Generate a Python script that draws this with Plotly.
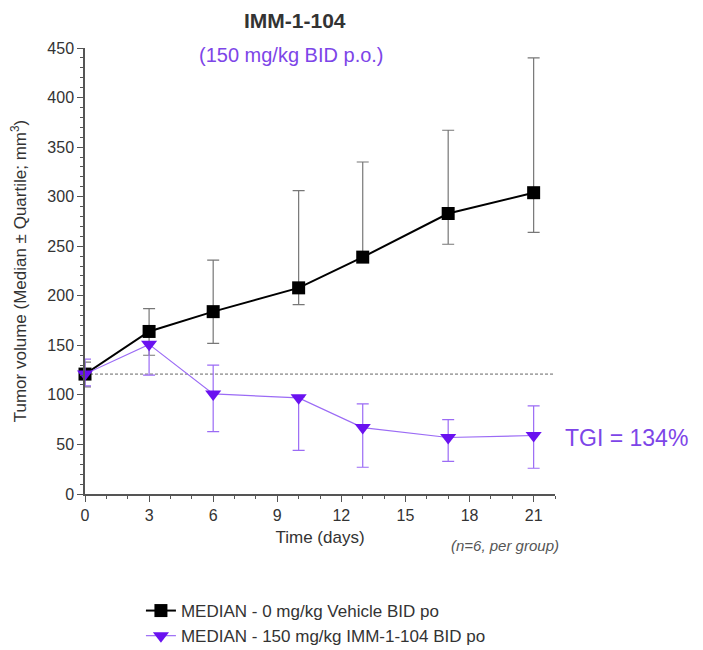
import plotly.graph_objects as go

days = [0, 3, 6, 10, 13, 17, 21]
vehicle_median = [121, 164, 184, 208, 239, 283, 304]
vehicle_upper = [133, 187, 236, 306, 335, 367, 440]
vehicle_lower = [108, 140, 152, 191, 236, 252, 264]
treat_median = [121, 151, 101, 97, 67, 57, 59]
treat_upper = [136, 153, 130, 98, 91, 75, 89]
treat_lower = [109, 120, 63, 44, 27, 33, 26]

x_tickvals = [0, 3, 6, 9, 12, 15, 18, 21]
y_tickvals = [0, 50, 100, 150, 200, 250, 300, 350, 400, 450]

purple_marker = "#6a11f0"
purple_line = "#9b6bf5"
purple_text = "#7d45e8"
axis_color = "#555555"
font_family = "Liberation Sans, Arial, sans-serif"

# the page body adds an 8px offset; the figure is sized to fit the window
PAGE_OFFSET = 8

fig = go.Figure()

fig.add_trace(go.Scatter(
    x=days, y=vehicle_median, mode="lines+markers",
    name="MEDIAN - 0 mg/kg Vehicle BID po",
    line=dict(color="black", width=2),
    marker=dict(symbol="square", size=13, color="black"),
    error_y=dict(type="data", symmetric=False,
                 array=[u - m for u, m in zip(vehicle_upper, vehicle_median)],
                 arrayminus=[m - l for m, l in zip(vehicle_median, vehicle_lower)],
                 color="#777777", thickness=1.2, width=6),
    cliponaxis=False,
))

fig.add_trace(go.Scatter(
    x=days, y=treat_median, mode="lines+markers",
    name="MEDIAN - 150 mg/kg IMM-1-104 BID po",
    line=dict(color=purple_line, width=1.2),
    marker=dict(symbol="triangle-down", size=14, color=purple_marker),
    error_y=dict(type="data", symmetric=False,
                 array=[u - m for u, m in zip(treat_upper, treat_median)],
                 arrayminus=[m - l for m, l in zip(treat_median, treat_lower)],
                 color=purple_line, thickness=1.2, width=6),
    cliponaxis=False,
))

# baseline dashed line at initial median
fig.add_shape(type="line", xref="x", yref="y", x0=0, x1=22,
              y0=vehicle_median[0], y1=vehicle_median[0],
              line=dict(color="#666666", width=1, dash="3px,2px"), layer="below")

fig.update_layout(
    width=703 - PAGE_OFFSET, height=650 - PAGE_OFFSET,
    margin=dict(l=85 - PAGE_OFFSET, r=148, t=48 - PAGE_OFFSET, b=156, autoexpand=False),
    paper_bgcolor="white", plot_bgcolor="white",
    font=dict(family=font_family, size=15, color="#333333"),
    showlegend=True,
    legend=dict(x=0.119, y=-0.222, xanchor="left", yanchor="top",
                font=dict(size=17, color="#333333"),
                tracegroupgap=0, itemwidth=30, bgcolor="rgba(0,0,0,0)"),
    xaxis=dict(range=[0, 22], tickmode="array", tickvals=x_tickvals,
               ticks="outside", ticklen=6, tickcolor=axis_color,
               showline=True, linecolor=axis_color, linewidth=1.5,
               showgrid=False, zeroline=False, automargin=False,
               minor=dict(dtick=1, ticks="outside", ticklen=3, tickcolor=axis_color),
               title=dict(text="Time (days)", font=dict(size=17, color="#333333"), standoff=8),
               tickfont=dict(size=16, color="#333333")),
    yaxis=dict(range=[0, 450], tickmode="array", tickvals=y_tickvals,
               ticks="outside", ticklen=6, tickcolor=axis_color,
               showline=True, linecolor=axis_color, linewidth=1.5,
               showgrid=False, zeroline=False, automargin=False,
               minor=dict(dtick=10, ticks="outside", ticklen=3, tickcolor=axis_color),
               title=dict(text="Tumor volume (Median ± Quartile; mm<sup>3</sup>)",
                          font=dict(size=17, color="#333333"), standoff=16),
               tickfont=dict(size=16, color="#333333")),
)

fig.add_annotation(text="<b>IMM-1-104</b>", xref="paper", yref="paper",
                   x=(295 - 85) / 470, y=(494 - 20) / 446, xanchor="center", yanchor="middle",
                   showarrow=False, font=dict(size=21, color="#333333"))
fig.add_annotation(text="(150 mg/kg BID p.o.)", xref="paper", yref="paper",
                   x=(291 - 85) / 470, y=(494 - 55) / 446, xanchor="center", yanchor="middle",
                   showarrow=False, font=dict(size=20, color=purple_text))
fig.add_annotation(text="TGI = 134%", xref="paper", yref="paper",
                   x=(563 - 85) / 470, y=(494 - 438) / 446, xanchor="left", yanchor="middle",
                   showarrow=False, font=dict(size=23, color=purple_text))
fig.add_annotation(text="<i>(n=6, per group)</i>", xref="paper", yref="paper",
                   x=(561 - 85) / 470, y=(494 - 545) / 446, xanchor="right", yanchor="middle",
                   showarrow=False, font=dict(size=15, color="#555555"))

fig.write_html("out.html")
